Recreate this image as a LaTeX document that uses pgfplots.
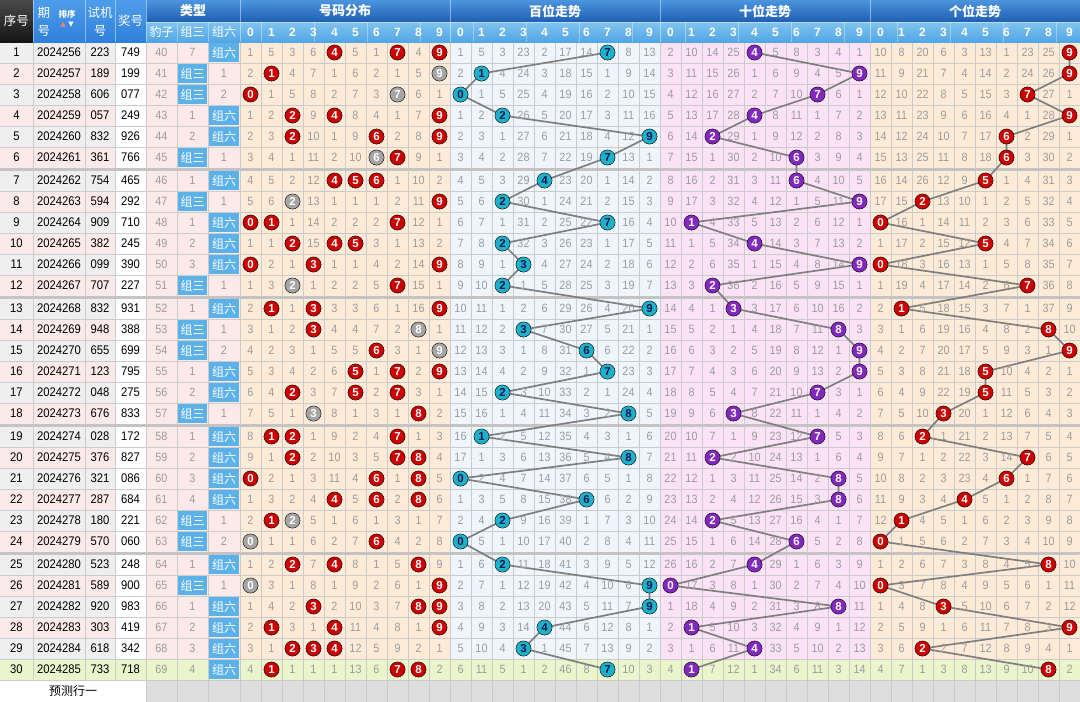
\documentclass[border=0pt]{standalone}
\usepackage{pgfplots}
\pgfplotsset{compat=1.18}
\usepackage{pgfplotstable}
\usepackage{fontspec}
\setmainfont{Liberation Sans}
\newfontfamily\cjk{Noto Sans CJK SC}
\newfontfamily\numf[FakeStretch=0.9]{Liberation Sans}
\newfontfamily\dvs{DejaVu Sans}

\definecolor{hdrTop}{HTML}{4B94DE}
\definecolor{hdrBot}{HTML}{1F5EB3}
\definecolor{subTop}{HTML}{80C3F1}
\definecolor{subBot}{HTML}{52A6E4}
\definecolor{midTop}{HTML}{4E9DEC}
\definecolor{midBot}{HTML}{2F80DA}
\definecolor{darkTop}{HTML}{4A4A4A}
\definecolor{darkBot}{HTML}{141414}
\definecolor{peach}{HTML}{FDEBD7}
\definecolor{bluebg}{HTML}{EEF6FB}
\definecolor{pinkbg}{HTML}{FBE2F6}
\definecolor{leftpink}{HTML}{FCEAEA}
\definecolor{leftgrey}{HTML}{EFEFEF}
\definecolor{greenbg}{HTML}{EAF5CC}
\definecolor{gridc}{HTML}{CBCBCB}
\definecolor{sepc}{HTML}{C4C4C4}
\definecolor{predgrey}{HTML}{DEDEDE}
\definecolor{labc}{HTML}{5DB1E9}
\definecolor{ballred}{HTML}{CC0000}
\definecolor{ballgrey}{HTML}{A5A5A5}
\definecolor{ballteal}{HTML}{1FB0CA}
\definecolor{ballpurple}{HTML}{8328BE}
\definecolor{navy}{HTML}{0B1A4F}
\definecolor{linec}{HTML}{7F7F7F}
\definecolor{omit}{HTML}{9C9C9C}
\definecolor{arrowpink}{HTML}{F08080}

\pgfplotsset{
  txt/.style={draw=none, mark=none, nodes near coords, point meta=explicit symbolic,
    nodes near coords style={anchor=center, inner sep=0pt}},
  omis/.style={txt, nodes near coords style={text=omit, font=\numf\fontsize{12}{12}\selectfont}},
  hitball/.style={only marks, mark=*, mark size=7.6pt, mark options={draw=none, fill=#1},
    nodes near coords, point meta=explicit symbolic,
    nodes near coords style={anchor=center, inner sep=0pt, text=white, font=\bfseries\fontsize{11.5}{12}\selectfont}},
}
\newcommand\rect[5]{\addplot[draw=none,#1] coordinates {(#2,#3) (#4,#3) (#4,#5) (#2,#5)} -- cycle;}

\pgfplotstableread{
y n qh sj jh bz zs zl h t u
52.5 1 2024256 223 749 40 7 {} 7 4 9
73.5 2 2024257 189 199 41 {} 1 1 9 9
94.5 3 2024258 606 077 42 {} 2 0 7 7
115.5 4 2024259 057 249 43 1 {} 2 4 9
136.5 5 2024260 832 926 44 2 {} 9 2 6
157.5 6 2024261 361 766 45 {} 1 7 6 6
180.5 7 2024262 754 465 46 1 {} 4 6 5
201.5 8 2024263 594 292 47 {} 1 2 9 2
222.5 9 2024264 909 710 48 1 {} 7 1 0
243.5 10 2024265 382 245 49 2 {} 2 4 5
264.5 11 2024266 099 390 50 3 {} 3 9 0
285.5 12 2024267 707 227 51 {} 1 2 2 7
308.5 13 2024268 832 931 52 1 {} 9 3 1
329.5 14 2024269 948 388 53 {} 1 3 8 8
350.5 15 2024270 655 699 54 {} 2 6 9 9
371.5 16 2024271 123 795 55 1 {} 7 9 5
392.5 17 2024272 048 275 56 2 {} 2 7 5
413.5 18 2024273 676 833 57 {} 1 8 3 3
436.5 19 2024274 028 172 58 1 {} 1 7 2
457.5 20 2024275 376 827 59 2 {} 8 2 7
478.5 21 2024276 321 086 60 3 {} 0 8 6
499.5 22 2024277 287 684 61 4 {} 6 8 4
520.5 23 2024278 180 221 62 {} 1 2 2 1
541.5 24 2024279 570 060 63 {} 2 0 6 0
564.5 25 2024280 523 248 64 1 {} 2 4 8
585.5 26 2024281 589 900 65 {} 1 9 0 0
606.5 27 2024282 920 983 66 1 {} 9 8 3
627.5 28 2024283 303 419 67 2 {} 4 1 9
648.5 29 2024284 618 342 68 3 {} 3 4 2
669.5 30 2024285 733 718 69 4 {} 7 1 8
}\main

\pgfplotstableread{
y c0 c1 c2 c3 c4 c5 c6 c7 c8 c9
52.5 1 5 3 6 {} 5 1 {} 4 {}
73.5 2 {} 4 7 1 6 2 1 5 {}
94.5 {} 1 5 8 2 7 3 {} 6 1
115.5 1 2 {} 9 {} 8 4 1 7 {}
136.5 2 3 {} 10 1 9 {} 2 8 {}
157.5 3 4 1 11 2 10 {} {} 9 1
180.5 4 5 2 12 {} {} {} 1 10 2
201.5 5 6 {} 13 1 1 1 2 11 {}
222.5 {} {} 1 14 2 2 2 {} 12 1
243.5 1 1 {} 15 {} {} 3 1 13 2
264.5 {} 2 1 {} 1 1 4 2 14 {}
285.5 1 3 {} 1 2 2 5 {} 15 1
308.5 2 {} 1 {} 3 3 6 1 16 {}
329.5 3 1 2 {} 4 4 7 2 {} 1
350.5 4 2 3 1 5 5 {} 3 1 {}
371.5 5 3 4 2 6 {} 1 {} 2 {}
392.5 6 4 {} 3 7 {} 2 {} 3 1
413.5 7 5 1 {} 8 1 3 1 {} 2
436.5 8 {} {} 1 9 2 4 {} 1 3
457.5 9 1 {} 2 10 3 5 {} {} 4
478.5 {} 2 1 3 11 4 {} 1 {} 5
499.5 1 3 2 4 {} 5 {} 2 {} 6
520.5 2 {} {} 5 1 6 1 3 1 7
541.5 {} 1 1 6 2 7 {} 4 2 8
564.5 1 2 {} 7 {} 8 1 5 {} 9
585.5 {} 3 1 8 1 9 2 6 1 {}
606.5 1 4 2 {} 2 10 3 7 {} {}
627.5 2 {} 3 1 {} 11 4 8 1 {}
648.5 3 1 {} {} {} 12 5 9 2 1
669.5 4 {} 1 1 1 13 6 {} {} 2
}\tabD

\pgfplotstableread{
y c0 c1 c2 c3 c4 c5 c6 c7 c8 c9
52.5 1 5 3 23 2 17 14 {} 8 13
73.5 2 {} 4 24 3 18 15 1 9 14
94.5 {} 1 5 25 4 19 16 2 10 15
115.5 1 2 {} 26 5 20 17 3 11 16
136.5 2 3 1 27 6 21 18 4 12 {}
157.5 3 4 2 28 7 22 19 {} 13 1
180.5 4 5 3 29 {} 23 20 1 14 2
201.5 5 6 {} 30 1 24 21 2 15 3
222.5 6 7 1 31 2 25 22 {} 16 4
243.5 7 8 {} 32 3 26 23 1 17 5
264.5 8 9 1 {} 4 27 24 2 18 6
285.5 9 10 {} 1 5 28 25 3 19 7
308.5 10 11 1 2 6 29 26 4 20 {}
329.5 11 12 2 {} 7 30 27 5 21 1
350.5 12 13 3 1 8 31 {} 6 22 2
371.5 13 14 4 2 9 32 1 {} 23 3
392.5 14 15 {} 3 10 33 2 1 24 4
413.5 15 16 1 4 11 34 3 2 {} 5
436.5 16 {} 2 5 12 35 4 3 1 6
457.5 17 1 3 6 13 36 5 4 {} 7
478.5 {} 2 4 7 14 37 6 5 1 8
499.5 1 3 5 8 15 38 {} 6 2 9
520.5 2 4 {} 9 16 39 1 7 3 10
541.5 {} 5 1 10 17 40 2 8 4 11
564.5 1 6 {} 11 18 41 3 9 5 12
585.5 2 7 1 12 19 42 4 10 6 {}
606.5 3 8 2 13 20 43 5 11 7 {}
627.5 4 9 3 14 {} 44 6 12 8 1
648.5 5 10 4 {} 1 45 7 13 9 2
669.5 6 11 5 1 2 46 8 {} 10 3
}\tabB

\pgfplotstableread{
y c0 c1 c2 c3 c4 c5 c6 c7 c8 c9
52.5 2 10 14 25 {} 5 8 3 4 1
73.5 3 11 15 26 1 6 9 4 5 {}
94.5 4 12 16 27 2 7 10 {} 6 1
115.5 5 13 17 28 {} 8 11 1 7 2
136.5 6 14 {} 29 1 9 12 2 8 3
157.5 7 15 1 30 2 10 {} 3 9 4
180.5 8 16 2 31 3 11 {} 4 10 5
201.5 9 17 3 32 4 12 1 5 11 {}
222.5 10 {} 4 33 5 13 2 6 12 1
243.5 11 1 5 34 {} 14 3 7 13 2
264.5 12 2 6 35 1 15 4 8 14 {}
285.5 13 3 {} 36 2 16 5 9 15 1
308.5 14 4 1 {} 3 17 6 10 16 2
329.5 15 5 2 1 4 18 7 11 {} 3
350.5 16 6 3 2 5 19 8 12 1 {}
371.5 17 7 4 3 6 20 9 13 2 {}
392.5 18 8 5 4 7 21 10 {} 3 1
413.5 19 9 6 {} 8 22 11 1 4 2
436.5 20 10 7 1 9 23 12 {} 5 3
457.5 21 11 {} 2 10 24 13 1 6 4
478.5 22 12 1 3 11 25 14 2 {} 5
499.5 23 13 2 4 12 26 15 3 {} 6
520.5 24 14 {} 5 13 27 16 4 1 7
541.5 25 15 1 6 14 28 {} 5 2 8
564.5 26 16 2 7 {} 29 1 6 3 9
585.5 {} 17 3 8 1 30 2 7 4 10
606.5 1 18 4 9 2 31 3 8 {} 11
627.5 2 {} 5 10 3 32 4 9 1 12
648.5 3 1 6 11 {} 33 5 10 2 13
669.5 4 {} 7 12 1 34 6 11 3 14
}\tabT

\pgfplotstableread{
y c0 c1 c2 c3 c4 c5 c6 c7 c8 c9
52.5 10 8 20 6 3 13 1 23 25 {}
73.5 11 9 21 7 4 14 2 24 26 {}
94.5 12 10 22 8 5 15 3 {} 27 1
115.5 13 11 23 9 6 16 4 1 28 {}
136.5 14 12 24 10 7 17 {} 2 29 1
157.5 15 13 25 11 8 18 {} 3 30 2
180.5 16 14 26 12 9 {} 1 4 31 3
201.5 17 15 {} 13 10 1 2 5 32 4
222.5 {} 16 1 14 11 2 3 6 33 5
243.5 1 17 2 15 12 {} 4 7 34 6
264.5 {} 18 3 16 13 1 5 8 35 7
285.5 1 19 4 17 14 2 6 {} 36 8
308.5 2 {} 5 18 15 3 7 1 37 9
329.5 3 1 6 19 16 4 8 2 {} 10
350.5 4 2 7 20 17 5 9 3 1 {}
371.5 5 3 8 21 18 {} 10 4 2 1
392.5 6 4 9 22 19 {} 11 5 3 2
413.5 7 5 10 {} 20 1 12 6 4 3
436.5 8 6 {} 1 21 2 13 7 5 4
457.5 9 7 1 2 22 3 14 {} 6 5
478.5 10 8 2 3 23 4 {} 1 7 6
499.5 11 9 3 4 {} 5 1 2 8 7
520.5 12 {} 4 5 1 6 2 3 9 8
541.5 {} 1 5 6 2 7 3 4 10 9
564.5 1 2 6 7 3 8 4 5 {} 10
585.5 {} 3 7 8 4 9 5 6 1 11
606.5 1 4 8 {} 5 10 6 7 2 12
627.5 2 5 9 1 6 11 7 8 3 {}
648.5 3 6 {} 2 7 12 8 9 4 1
669.5 4 7 1 3 8 13 9 10 {} 2
}\tabU

\pgfplotstableread{
y d
52.5 4
52.5 7
52.5 9
73.5 1
94.5 0
115.5 2
115.5 4
115.5 9
136.5 2
136.5 6
136.5 9
157.5 7
180.5 4
180.5 5
180.5 6
201.5 9
222.5 0
222.5 1
222.5 7
243.5 2
243.5 4
243.5 5
264.5 0
264.5 3
264.5 9
285.5 7
308.5 1
308.5 3
308.5 9
329.5 3
350.5 6
371.5 5
371.5 7
371.5 9
392.5 2
392.5 5
392.5 7
413.5 8
436.5 1
436.5 2
436.5 7
457.5 2
457.5 7
457.5 8
478.5 0
478.5 6
478.5 8
499.5 4
499.5 6
499.5 8
520.5 1
541.5 6
564.5 2
564.5 4
564.5 8
585.5 9
606.5 3
606.5 8
606.5 9
627.5 1
627.5 4
627.5 9
648.5 2
648.5 3
648.5 4
669.5 1
669.5 7
669.5 8
}\distR

\pgfplotstableread{
y d
73.5 9
94.5 7
157.5 6
201.5 2
285.5 2
329.5 8
350.5 9
413.5 3
520.5 2
541.5 0
585.5 0
}\distG

\pgfplotstableread{
d hy
0 32
1 32
2 32
3 32
4 32
5 32
6 32
7 32
8 32
9 32
}\digs

\begin{document}
\begin{tikzpicture}
\begin{axis}[width=1080pt, height=702pt, scale only axis, xmin=0, xmax=1080, ymin=0, ymax=702,
  y dir=reverse, hide axis, clip=true]

% ---------- backgrounds ----------
\rect{fill=leftgrey}{0}{42}{115}{680}
\rect{fill=leftpink}{0}{63}{115}{84}
\rect{fill=leftpink}{0}{105}{115}{126}
\rect{fill=leftpink}{0}{147}{115}{168}
\rect{fill=leftpink}{0}{191}{115}{212}
\rect{fill=leftpink}{0}{233}{115}{254}
\rect{fill=leftpink}{0}{275}{115}{296}
\rect{fill=leftpink}{0}{319}{115}{340}
\rect{fill=leftpink}{0}{361}{115}{382}
\rect{fill=leftpink}{0}{403}{115}{424}
\rect{fill=leftpink}{0}{447}{115}{468}
\rect{fill=leftpink}{0}{489}{115}{510}
\rect{fill=leftpink}{0}{531}{115}{552}
\rect{fill=leftpink}{0}{575}{115}{596}
\rect{fill=leftpink}{0}{617}{115}{638}
\rect{fill=white}{115}{42}{146}{680}
\rect{fill=leftpink}{146}{42}{240}{680}
\rect{fill=peach}{240}{42}{450}{680}
\rect{fill=bluebg}{450}{42}{660}{680}
\rect{fill=pinkbg}{660}{42}{870}{680}
\rect{fill=peach}{870}{42}{1080}{680}
\rect{fill=greenbg}{0}{659}{1080}{680}
\rect{fill=white}{0}{680}{146}{702}
\rect{fill=predgrey}{146}{680}{1080}{702}

% ---------- grid ----------
\pgfplotsinvokeforeach{33,85,115}{\addplot[gridc, line width=1pt] coordinates {(#1,42) (#1,680)};}
\pgfplotsinvokeforeach{146,177,208,240,261,...,1080}{\addplot[gridc, line width=1pt] coordinates {(#1,42) (#1,702)};}
\pgfplotsinvokeforeach{42,63,...,168}{\addplot[gridc, line width=1pt] coordinates {(0,#1) (1080,#1)};}
\pgfplotsinvokeforeach{170,191,...,296}{\addplot[gridc, line width=1pt] coordinates {(0,#1) (1080,#1)};}
\pgfplotsinvokeforeach{298,319,...,424}{\addplot[gridc, line width=1pt] coordinates {(0,#1) (1080,#1)};}
\pgfplotsinvokeforeach{426,447,...,552}{\addplot[gridc, line width=1pt] coordinates {(0,#1) (1080,#1)};}
\pgfplotsinvokeforeach{554,575,...,680}{\addplot[gridc, line width=1pt] coordinates {(0,#1) (1080,#1)};}
\rect{fill=sepc}{0}{168}{1080}{170.5}
\rect{fill=sepc}{0}{296}{1080}{298.5}
\rect{fill=sepc}{0}{424}{1080}{426.5}
\rect{fill=sepc}{0}{552}{1080}{554.5}

% ---------- header ----------
\rect{top color=hdrTop, bottom color=hdrBot}{146}{0}{1080}{22}
\rect{top color=subTop, bottom color=subBot}{146}{22}{1080}{42}
\rect{top color=darkTop, bottom color=darkBot}{0}{0}{33}{42}
\rect{top color=midTop, bottom color=midBot}{33}{0}{146}{42}
\pgfplotsinvokeforeach{33,85,115,146,240,450,660,870}{\addplot[white, opacity=0.45, line width=1pt] coordinates {(#1,0) (#1,42)};}
\pgfplotsinvokeforeach{177,208,261,...,1059}{\addplot[white, opacity=0.35, line width=1pt] coordinates {(#1,22) (#1,42)};}
\addplot[white, opacity=0.45, line width=1pt] coordinates {(146,22) (1080,22)};

\addplot[txt, nodes near coords style={text=white, font=\cjk\fontsize{12.5}{13}\selectfont}]
  coordinates {(16.5,21)[序号] (130.5,21)[奖号] (100,12.5)[试机] (100,31)[号] (44,12.5)[期] (44,31)[号]};
\addplot[txt, nodes near coords style={text=white, font=\cjk\bfseries\fontsize{13}{13}\selectfont}]
  coordinates {(193,11)[类型] (345,11)[号码分布] (555,11)[百位走势] (765,11)[十位走势] (975,11)[个位走势]};
\addplot[txt, nodes near coords style={text=white, font=\cjk\fontsize{12}{12}\selectfont}]
  coordinates {(161.5,32)[豹子] (192.5,32)[组三] (224,32)[组六]};
\addplot[txt, nodes near coords style={text=white, font=\cjk\bfseries\fontsize{8.5}{9}\selectfont}]
  coordinates {(67,14)[排序]};
\addplot[txt, nodes near coords style={text=arrowpink, font=\dvs\fontsize{7}{7}\selectfont}]
  coordinates {(63,24.5)[▲]};
\addplot[txt, nodes near coords style={text=white, font=\dvs\fontsize{7}{7}\selectfont}]
  coordinates {(71,24.5)[▼]};
\pgfplotsinvokeforeach{240,450,660,870}{
  \addplot[txt, nodes near coords style={text=white, font=\bfseries\fontsize{12}{12}\selectfont}]
    table[x expr=#1+10.5+21*\thisrow{d}, y=hy, meta=d] {\digs};
}

% ---------- left columns ----------
\addplot[txt, nodes near coords style={text=black, font=\numf\fontsize{12.5}{13}\selectfont}] table[x expr=16.5, y=y, meta=n] {\main};
\addplot[txt, nodes near coords style={text=black, font=\numf\fontsize{12.5}{13}\selectfont}] table[x expr=59, y=y, meta=qh] {\main};
\addplot[txt, nodes near coords style={text=black, font=\numf\fontsize{12.5}{13}\selectfont}] table[x expr=100, y=y, meta=sj] {\main};
\addplot[txt, nodes near coords style={text=black, font=\numf\fontsize{12.5}{13}\selectfont}] table[x expr=130.5, y=y, meta=jh] {\main};
\addplot[omis] table[x expr=161.5, y=y, meta=bz] {\main};
\addplot[omis] table[x expr=192.5, y=y, meta=zs] {\main};
\addplot[omis] table[x expr=224, y=y, meta=zl] {\main};

\addplot[draw=none, mark=none, nodes near coords={\cjk\fontsize{12}{12}\selectfont 组三},
  nodes near coords style={anchor=center, fill=labc, text=white, minimum width=29pt, minimum height=19.5pt, inner sep=0pt}]
  coordinates {(192.5,73.5) (192.5,94.5) (192.5,157.5) (192.5,201.5) (192.5,285.5) (192.5,329.5) (192.5,350.5) (192.5,413.5) (192.5,520.5) (192.5,541.5) (192.5,585.5)};
\addplot[draw=none, mark=none, nodes near coords={\cjk\fontsize{12}{12}\selectfont 组六},
  nodes near coords style={anchor=center, fill=labc, text=white, minimum width=30pt, minimum height=19.5pt, inner sep=0pt}]
  coordinates {(224,52.5) (224,115.5) (224,136.5) (224,180.5) (224,222.5) (224,243.5) (224,264.5) (224,308.5) (224,371.5) (224,392.5) (224,436.5) (224,457.5) (224,478.5) (224,499.5) (224,564.5) (224,606.5) (224,627.5) (224,648.5) (224,669.5)};

\addplot[txt, nodes near coords style={text=black, font=\cjk\fontsize{12}{12}\selectfont}] coordinates {(73,691)[预测行一]};

% ---------- omission numbers ----------
\pgfplotsinvokeforeach{0,...,9}{
  \addplot[omis] table[x expr=250.5+21*#1, y=y, meta=c#1] {\tabD};
  \addplot[omis] table[x expr=460.5+21*#1, y=y, meta=c#1] {\tabB};
  \addplot[omis] table[x expr=670.5+21*#1, y=y, meta=c#1] {\tabT};
  \addplot[omis] table[x expr=880.5+21*#1, y=y, meta=c#1] {\tabU};
}

% ---------- trend lines ----------
\addplot[linec, line width=1.7pt] table[x expr=460.5+21*\thisrow{h}, y=y] {\main};
\addplot[linec, line width=1.7pt] table[x expr=670.5+21*\thisrow{t}, y=y] {\main};
\addplot[linec, line width=1.7pt] table[x expr=880.5+21*\thisrow{u}, y=y] {\main};

% ---------- balls ----------
\addplot[hitball=ballred] table[x expr=250.5+21*\thisrow{d}, y=y, meta=d] {\distR};
\addplot[hitball=ballgrey] table[x expr=250.5+21*\thisrow{d}, y=y, meta=d] {\distG};
\addplot[hitball=ballteal, nodes near coords style={text=navy}] table[x expr=460.5+21*\thisrow{h}, y=y, meta=h] {\main};
\addplot[hitball=ballpurple] table[x expr=670.5+21*\thisrow{t}, y=y, meta=t] {\main};
\addplot[hitball=ballred] table[x expr=880.5+21*\thisrow{u}, y=y, meta=u] {\main};

\end{axis}
\pgfresetboundingbox
\path[use as bounding box] (current axis.south west) rectangle (current axis.north east);
\end{tikzpicture}
\end{document}
